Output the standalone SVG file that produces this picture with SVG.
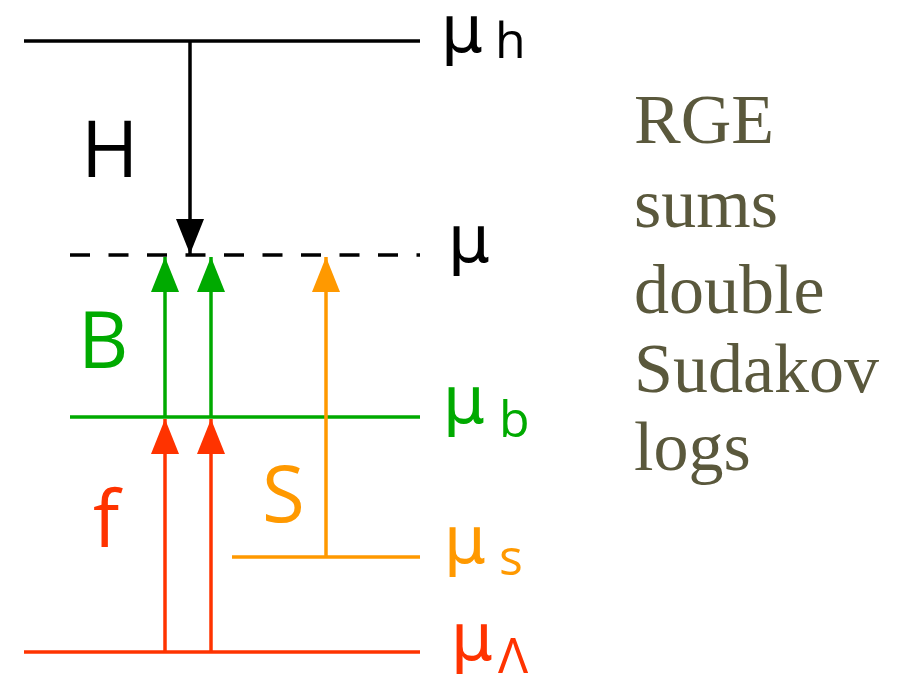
<svg xmlns="http://www.w3.org/2000/svg" width="902" height="677" viewBox="0 0 902 677">
<style>
.ln{stroke-width:3.5;fill:none}
.k{stroke:#000}.g{stroke:#00aa00}.r{stroke:#ff3300}.o{stroke:#ff9900}
.lbl{font-family:"Open Sans","DejaVu Sans",sans-serif;font-size:78px}
.mu{font-family:"DejaVu Sans",sans-serif;font-size:66px}
.sub{font-family:"Open Sans","DejaVu Sans",sans-serif;font-size:50px}
.side{font-family:"Liberation Serif",serif;font-size:70px;fill:#5a583c}
</style>
<defs>
<marker id="ak" markerUnits="userSpaceOnUse" markerWidth="35" markerHeight="28" refX="35" refY="14" orient="auto"><path d="M0,0 L35,14 L0,28 z" fill="#000"/></marker>
<marker id="ag" markerUnits="userSpaceOnUse" markerWidth="35" markerHeight="28" refX="35" refY="14" orient="auto"><path d="M0,0 L35,14 L0,28 z" fill="#00aa00"/></marker>
<marker id="ar" markerUnits="userSpaceOnUse" markerWidth="35" markerHeight="28" refX="35" refY="14" orient="auto"><path d="M0,0 L35,14 L0,28 z" fill="#ff3300"/></marker>
<marker id="ao" markerUnits="userSpaceOnUse" markerWidth="35" markerHeight="28" refX="35" refY="14" orient="auto"><path d="M0,0 L35,14 L0,28 z" fill="#ff9900"/></marker>
</defs>
<rect width="902" height="677" fill="#fff"/>

<g id="level-h">
<line class="ln k" x1="24" y1="41" x2="420" y2="41"/>
<text class="mu" x="441" y="52" fill="#000">μ</text>
<text class="sub" x="495" y="58" fill="#000">h</text>
</g>
<g id="level-mu">
<line class="ln k" x1="70" y1="255" x2="420" y2="255" stroke-dasharray="20 18.5"/>
<text class="mu" x="448" y="262" fill="#000">μ</text>
</g>
<g id="level-b">
<line class="ln g" x1="70" y1="417" x2="420" y2="417"/>
<text class="mu" x="443" y="423" fill="#00aa00">μ</text>
<text class="sub" x="499" y="437" fill="#00aa00">b</text>
</g>
<g id="level-s">
<line class="ln o" x1="232" y1="557" x2="420" y2="557"/>
<text class="mu" x="444" y="563" fill="#ff9900">μ</text>
<text class="sub" x="499" y="575" fill="#ff9900">s</text>
</g>
<g id="level-lambda">
<line class="ln r" x1="24" y1="652" x2="420" y2="652"/>
<text class="mu" x="451" y="660" fill="#ff3300">μ</text>
<text class="sub" x="498" y="673" fill="#ff3300">Λ</text>
</g>

<g id="label-H"><text class="lbl" x="81" y="177" fill="#000">H</text></g>
<g id="label-B"><text class="lbl" x="78" y="368" fill="#00aa00">B</text></g>
<g id="label-f"><text class="lbl" x="93" y="547" fill="#ff3300">f</text></g>
<g id="label-S"><text class="lbl" x="262" y="522" fill="#ff9900">S</text></g>

<g id="note">
<text class="side" x="634" y="143">RGE</text>
<text class="side" x="634" y="227">sums</text>
<text class="side" x="634" y="313">double</text>
<text class="side" x="634" y="392">Sudakov</text>
<text class="side" x="634" y="470">logs</text>
</g>

<g id="connectors">
<line class="ln k" x1="190" y1="41" x2="190" y2="254" marker-end="url(#ak)"/>
<line class="ln g" x1="165" y1="417" x2="165" y2="257" marker-end="url(#ag)"/>
<line class="ln g" x1="211" y1="417" x2="211" y2="257" marker-end="url(#ag)"/>
<line class="ln r" x1="165" y1="652" x2="165" y2="419" marker-end="url(#ar)"/>
<line class="ln r" x1="211" y1="652" x2="211" y2="419" marker-end="url(#ar)"/>
<line class="ln o" x1="326" y1="557" x2="326" y2="257" marker-end="url(#ao)"/>
</g>
</svg>
